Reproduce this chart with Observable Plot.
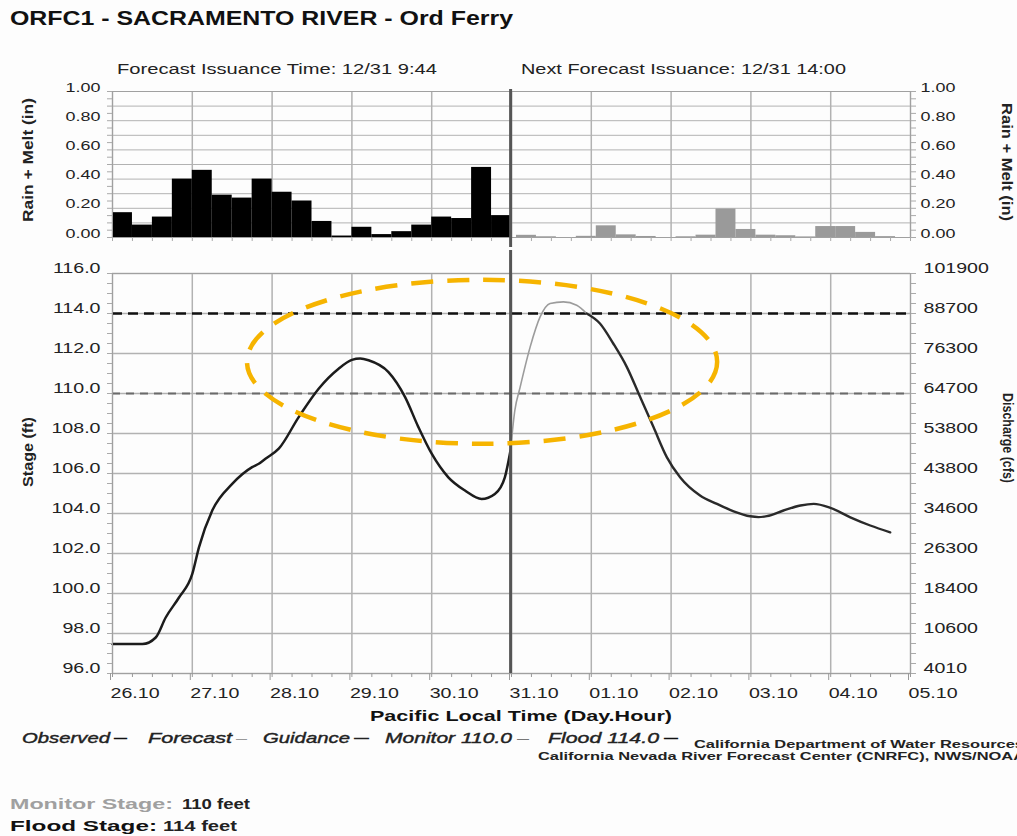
<!DOCTYPE html>
<html>
<head>
<meta charset="utf-8">
<script src="https://cdn.jsdelivr.net/npm/d3@7"></script>
<script src="https://cdn.jsdelivr.net/npm/@observablehq/plot@0.6"></script>
<style>
html, body { margin: 0; padding: 0; background: #fff; }
#page { position: relative; width: 1017px; height: 836px; overflow: hidden; background: #fdfdfd; }
#page > svg { position: absolute; left: 0; }
</style>
</head>
<body>
<div id="page"></div>
<script>
// ---------------- data ----------------
const dayHours = [0, 24, 48, 72, 96, 120, 144, 168, 192, 216, 240];
const dayLabels = ["26.10", "27.10", "28.10", "29.10", "30.10", "31.10", "01.10", "02.10", "03.10", "04.10", "05.10"];

const rainStepHours = 6;
const rainObservedStart = 0;
const rainObserved = [0.17, 0.085, 0.14, 0.40, 0.46, 0.29, 0.27, 0.40, 0.31, 0.25,
                      0.11, 0.01, 0.07, 0.02, 0.04, 0.085, 0.14, 0.13, 0.48, 0.15];
const rainForecastStart = 121.5;
const rainForecast = [0.015, 0.005, 0, 0.008, 0.08, 0.018, 0.007, 0, 0.005, 0.016,
                      0.195, 0.055, 0.016, 0.012, 0.004, 0.075, 0.075, 0.035, 0.006];
const rainTicks = [0, 0.2, 0.4, 0.6, 0.8, 1.0];

const stageTicks = [96, 98, 100, 102, 104, 106, 108, 110, 112, 114, 116];
const dischargeLabels = ["4010", "10600", "18400", "26300", "34600", "43800", "53800", "64700", "76300", "88700", "101900"];

const observedHours = [0, 9, 13, 16, 20, 24, 26, 30, 36, 42, 44, 46, 50, 56, 62, 68, 72, 74.5, 77, 83, 88, 92, 96, 101, 106, 111, 115, 118, 119.7];
const observedStage = [97.47, 97.47, 97.8, 98.8, 99.8, 100.98, 102.31, 104.15, 105.48, 106.32, 106.49, 106.74, 107.24, 108.82,
                       110.24, 111.24, 111.68, 111.75, 111.66, 111.07, 109.82, 108.32, 106.99, 105.81, 105.15, 104.73, 104.98, 105.81, 107.15];
const forecastHours = [119.7, 121, 122.6, 125.6, 128.6, 131.6, 135.6, 139.6, 142.6];
const forecastStage = [107.15, 109.15, 110.32, 112.32, 113.83, 114.5, 114.58, 114.41, 114.0];
const guidanceHours = [142.6, 146.6, 150.6, 154.7, 158.7, 162.7, 166.7, 170.7, 176.7, 181.8, 186.8, 191.8, 194.3, 196.8,
                       201.8, 206.9, 210.9, 215.9, 221.9, 227.9, 233.9];
const guidanceStage = [114.0, 113.5, 112.5, 111.32, 109.82, 108.32, 106.82, 105.81, 104.9, 104.48, 104.11, 103.86, 103.82, 103.87,
                       104.15, 104.4, 104.48, 104.28, 103.81, 103.4, 103.06];

const issueHour = 119.73;      // 12/31 9:44
const monitorStage = 110;
const floodStage = 114;

// annotation ellipse (data units)
const ellipseHour = 111.3, ellipseStage = 111.56, ellipseHalfHours = 70.7, ellipseHalfFeet = 4.1;

// ---------------- build tables ----------------
const obsRainRows = rainObserved.map((v, i) => ({x1: rainObservedStart + i * rainStepHours, x2: rainObservedStart + (i + 1) * rainStepHours, v}));
const fcstRainRows = rainForecast.map((v, i) => ({x1: rainForecastStart + i * rainStepHours, x2: rainForecastStart + (i + 1) * rainStepHours, v}));
const observed = observedHours.map((h, i) => ({h, s: observedStage[i]}));
const forecast = forecastHours.map((h, i) => ({h, s: forecastStage[i]}));
const guidance = guidanceHours.map((h, i) => ({h, s: guidanceStage[i]}));
const sixHourTicks = d3.range(0, 241, 6);
const rainGrid = d3.range(0, 1.0001, 0.1);
const rainMinor = d3.range(0, 1.0001, 0.05);
const stageMinor = d3.range(96, 116.001, 0.5);

const font = '"Liberation Sans", Arial, Helvetica, sans-serif';
const gridColor = "#b2b2b2";

// ---------------- top chart: rain + melt ----------------
const topChart = Plot.plot({
  width: 1017, height: 169,
  marginLeft: 112, marginRight: 107, marginTop: 13, marginBottom: 10,
  style: {fontFamily: font, fontSize: "13px", color: "#222", background: "transparent"},
  x: {domain: [0, 240], axis: null},
  y: {domain: [0, 1], axis: null},
  marks: [
    Plot.gridY(rainGrid, {stroke: gridColor, strokeOpacity: 1}),
    Plot.gridX(dayHours, {stroke: gridColor, strokeOpacity: 1, strokeWidth: 1.5}),
    Plot.rectY(obsRainRows, {x1: "x1", x2: "x2", y: "v", fill: "#000"}),
    Plot.rectY(fcstRainRows, {x1: "x1", x2: "x2", y: "v", fill: "#9a9a9a"}),
    Plot.frame({stroke: "#a0a0a0"}),
    Plot.axisY(rainMinor, {anchor: "left", tickSize: 5, tickFormat: () => "", label: null, stroke: "#aaa"}),
    Plot.axisY(rainMinor, {anchor: "right", tickSize: 5, tickFormat: () => "", label: null, stroke: "#aaa"}),
    Plot.axisY(rainTicks, {anchor: "left", tickSize: 0, tickPadding: 12, dy: -4, tickFormat: d => d.toFixed(2), label: null}),
    Plot.axisY(rainTicks, {anchor: "right", tickSize: 0, tickPadding: 10, dy: -4, tickFormat: d => d.toFixed(2), label: null}),
    Plot.axisX(sixHourTicks, {anchor: "bottom", tickSize: 4, tickFormat: () => "", label: null, stroke: "#aaa"}),
    Plot.ruleX([issueHour], {stroke: "#555", strokeWidth: 3, insetBottom: -14, insetTop: -2})
  ]
});

// ---------------- main chart: stage ----------------
function annotationEllipse(index, scales) {
  const cx = scales.x(ellipseHour), cy = scales.y(ellipseStage);
  const rx = Math.abs(scales.x(ellipseHour + ellipseHalfHours) - cx);
  const ry = Math.abs(scales.y(ellipseStage + ellipseHalfFeet) - cy);
  const el = document.createElementNS("http://www.w3.org/2000/svg", "ellipse");
  el.setAttribute("cx", cx); el.setAttribute("cy", cy);
  el.setAttribute("rx", rx); el.setAttribute("ry", ry);
  el.setAttribute("fill", "none");
  el.setAttribute("stroke", "#f6b400");
  el.setAttribute("stroke-width", 4.5);
  el.setAttribute("stroke-dasharray", "22,14");
  return el;
}

const mainChart = Plot.plot({
  width: 1017, height: 478,
  marginLeft: 112, marginRight: 107, marginTop: 23, marginBottom: 55,
  style: {fontFamily: font, fontSize: "14px", color: "#222", background: "transparent"},
  x: {domain: [0, 240], axis: null},
  y: {domain: [96, 116], axis: null},
  marks: [
    Plot.gridY(stageTicks, {stroke: gridColor, strokeOpacity: 1, strokeWidth: 1.3}),
    Plot.gridX(dayHours, {stroke: gridColor, strokeOpacity: 1, strokeWidth: 1.5}),
    Plot.ruleY([monitorStage], {stroke: "#6a6a6a", strokeWidth: 2, strokeDasharray: "8,6"}),
    Plot.ruleY([floodStage], {stroke: "#111", strokeWidth: 2.6, strokeDasharray: "10,6"}),
    Plot.line(observed, {x: "h", y: "s", curve: "monotone-x", stroke: "#1c1c1c", strokeWidth: 2.5}),
    Plot.line(forecast, {x: "h", y: "s", curve: "monotone-x", stroke: "#9c9c9c", strokeWidth: 1.6}),
    Plot.line(guidance, {x: "h", y: "s", curve: "monotone-x", stroke: "#2a2a2a", strokeWidth: 2.4}),
    Plot.frame({stroke: "#a0a0a0"}),
    Plot.axisY(stageMinor, {anchor: "left", tickSize: 5, tickFormat: () => "", label: null, stroke: "#aaa"}),
    Plot.axisY(stageMinor, {anchor: "right", tickSize: 5, tickFormat: () => "", label: null, stroke: "#aaa"}),
    Plot.axisY(stageTicks, {anchor: "left", tickSize: 0, tickPadding: 12, dy: -5, tickFormat: d => d.toFixed(1), label: null}),
    Plot.axisY(stageTicks, {anchor: "right", tickSize: 0, tickPadding: 13, dy: -5,
      tickFormat: d => dischargeLabels[stageTicks.indexOf(d)], label: null}),
    Plot.axisX(sixHourTicks, {anchor: "bottom", tickSize: 4, tickFormat: () => "", label: null, stroke: "#999"}),
    Plot.axisX(dayHours, {anchor: "bottom", tickSize: 7, tickPadding: 8, textAnchor: "start", dx: -2,
      tickFormat: d => dayLabels[dayHours.indexOf(d)], label: null, stroke: "#999"}),
    Plot.ruleX([issueHour], {stroke: "#555", strokeWidth: 3, insetTop: -25}),
    annotationEllipse
  ]
});

const page = document.getElementById("page");
topChart.style.top = "78px";
mainChart.style.top = "250px";
page.appendChild(topChart);
page.appendChild(mainChart);

// stretch tick labels horizontally (the reference's lettering is wide)
function stretch(svg, k) {
  svg.querySelectorAll("text").forEach(t => {
    const w = t.getComputedTextLength();
    if (w > 0) {
      t.setAttribute("textLength", (w * k).toFixed(1));
      t.setAttribute("lengthAdjust", "spacingAndGlyphs");
    }
  });
}
stretch(topChart, 1.38);
stretch(mainChart, 1.4);

// ---------------- overlay texts ----------------
const NS = "http://www.w3.org/2000/svg";
const overlay = document.createElementNS(NS, "svg");
overlay.setAttribute("width", 1017);
overlay.setAttribute("height", 836);
overlay.style.top = "0px";
overlay.style.pointerEvents = "none";
overlay.style.fontFamily = font;
page.appendChild(overlay);

function addText(str, o) {
  const t = document.createElementNS(NS, "text");
  t.textContent = str;
  t.setAttribute("x", o.x || 0);
  t.setAttribute("y", o.y || 0);
  t.setAttribute("font-size", o.size || 14);
  t.setAttribute("fill", o.fill || "#222");
  if (o.weight) t.setAttribute("font-weight", o.weight);
  if (o.italic) t.setAttribute("font-style", "italic");
  if (o.anchor) t.setAttribute("text-anchor", o.anchor);
  if (o.dy) t.setAttribute("dy", o.dy);
  if (o.transform) t.setAttribute("transform", o.transform);
  if (o.stroke) { t.setAttribute("stroke", o.stroke); t.setAttribute("stroke-width", o.strokeWidth || 0.35); }
  if (o.len) { t.setAttribute("textLength", o.len); t.setAttribute("lengthAdjust", "spacingAndGlyphs"); }
  overlay.appendChild(t);
  return t;
}

addText("ORFC1 - SACRAMENTO RIVER - Ord Ferry", {x: 10, y: 25, size: 20, weight: "bold", fill: "#111", len: 503});
addText("Forecast Issuance Time: 12/31 9:44", {x: 117, y: 74, size: 14, fill: "#222", len: 320});
addText("Next Forecast Issuance: 12/31 14:00", {x: 521, y: 74, size: 14, fill: "#222", len: 325});

addText("Rain + Melt (in)", {anchor: "middle", dy: "0.35em", size: 14, weight: "bold", len: 124, transform: "translate(28,160) rotate(-90)"});
addText("Rain + Melt (in)", {anchor: "middle", dy: "0.35em", size: 14, weight: "bold", len: 118, transform: "translate(1007,162) rotate(90)"});
addText("Stage (ft)", {anchor: "middle", dy: "0.35em", size: 14, weight: "bold", len: 70, transform: "translate(28,452) rotate(-90)"});
addText("Discharge (cfs)", {anchor: "middle", dy: "0.35em", size: 14, weight: "bold", len: 90, transform: "translate(1008,438) rotate(90)"});

addText("Pacific Local Time (Day.Hour)", {x: 521, y: 721, size: 15, weight: "bold", anchor: "middle", fill: "#111", len: 302});

// legend
const legendY = 743;
const lg = {size: 15, italic: true, fill: "#222", stroke: "#222", strokeWidth: 0.4};
addText("Observed", {...lg, x: 22, y: legendY, len: 88});
addText("–", {x: 113, y: legendY, size: 15, weight: "bold", fill: "#111", len: 15});
addText("Forecast", {...lg, x: 148, y: legendY, len: 84});
addText("–", {x: 236, y: legendY, size: 15, fill: "#999", len: 11});
addText("Guidance", {...lg, x: 263, y: legendY, len: 87});
addText("–", {x: 353, y: legendY, size: 15, weight: "bold", fill: "#222", len: 17});
addText("Monitor 110.0", {...lg, x: 385, y: legendY, len: 127});
addText("–", {x: 517, y: legendY, size: 15, fill: "#777", len: 12});
addText("Flood 114.0", {...lg, x: 548, y: legendY, len: 111});
addText("–", {x: 663, y: legendY, size: 15, weight: "bold", fill: "#111", len: 16});

addText("California Department of Water Resources", {x: 1024, y: 748, size: 10, weight: "bold", anchor: "end", fill: "#222", len: 330});
addText("California Nevada River Forecast Center (CNRFC), NWS/NOAA", {x: 1025, y: 760, size: 10, weight: "bold", anchor: "end", fill: "#222", len: 487});

addText("Monitor Stage:", {x: 10, y: 809, size: 15, weight: "bold", fill: "#a0a0a0", len: 163});
addText("110 feet", {x: 182, y: 809, size: 15, weight: "bold", fill: "#222", len: 68});
addText("Flood Stage:", {x: 10, y: 831, size: 15, weight: "bold", fill: "#111", len: 147});
addText("114 feet", {x: 163, y: 831, size: 15, weight: "bold", fill: "#222", len: 74});
</script>
</body>
</html>
